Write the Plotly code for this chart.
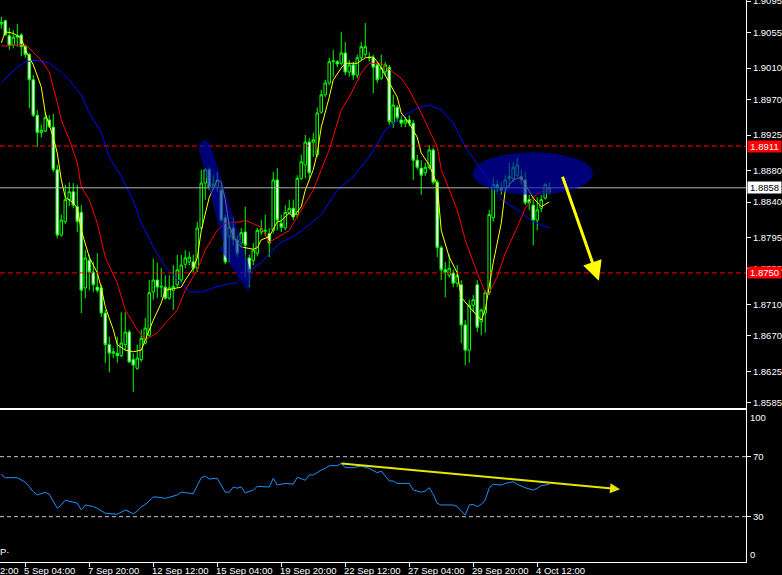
import plotly.graph_objects as go

# ---------------- data (H4 candles, bar index 0..137) ----------------
bars = list(range(138))
opens = [1.9066,1.9070,1.9051,1.9039,1.9049,1.9052,1.9037,1.9027,1.8995,1.8950,
         1.8928,1.8930,1.8944,1.8935,1.8881,1.8798,1.8815,1.8843,1.8853,1.8834,
         1.8827,1.8731,1.8766,1.8751,1.8732,1.8731,1.8699,1.8659,1.8648,1.8648,
         1.8645,1.8659,1.8675,1.8640,1.8629,1.8640,1.8661,1.8671,1.8726,1.8741,
         1.8732,1.8732,1.8718,1.8728,1.8735,1.8741,1.8761,1.8764,1.8764,1.8756,
         1.8807,1.8864,1.8881,1.8860,1.8858,1.8855,1.8820,1.8796,1.8807,1.8792,
         1.8788,1.8802,1.8769,1.8766,1.8775,1.8802,1.8803,1.8800,1.8804,1.8868,
         1.8813,1.8807,1.8826,1.8832,1.8824,1.8870,1.8887,1.8916,1.8916,1.8900,
         1.8954,1.8976,1.8991,1.9018,1.9018,1.9016,1.9029,1.9005,1.9014,1.9001,
         1.9023,1.9027,1.9024,1.9023,1.9014,1.8997,1.9005,1.9011,1.8940,1.8960,
         1.8944,1.8940,1.8944,1.8940,1.8893,1.8883,1.8877,1.8884,1.8906,1.8865,
         1.8782,1.8754,1.8747,1.8750,1.8737,1.8735,1.8684,1.8652,1.8709,1.8735,
         1.8688,1.8699,1.8725,1.8820,1.8862,1.8858,1.8858,1.8870,1.8870,1.8874,
         1.8872,1.8868,1.8843,1.8836,1.8817,1.8832,1.8845,1.8853]
highs = [1.9075,1.9071,1.9061,1.9058,1.9066,1.9054,1.9039,1.9029,1.9001,1.8957,
         1.8938,1.8954,1.8950,1.8952,1.8887,1.8824,1.8862,1.8865,1.8864,1.8862,
         1.8836,1.8779,1.8773,1.8764,1.8775,1.8735,1.8703,1.8669,1.8655,1.8669,
         1.8700,1.8700,1.8678,1.8648,1.8659,1.8678,1.8693,1.8741,1.8768,1.8763,
         1.8756,1.8747,1.8747,1.8760,1.8773,1.8773,1.8779,1.8777,1.8773,1.8815,
         1.8881,1.8883,1.8884,1.8874,1.8878,1.8862,1.8824,1.8815,1.8820,1.8798,
         1.8807,1.8834,1.8773,1.8788,1.8807,1.8817,1.8824,1.8807,1.8878,1.8883,
         1.8824,1.8836,1.8843,1.8843,1.8874,1.8900,1.8925,1.8921,1.8928,1.8960,
         1.8982,1.8995,1.9023,1.9033,1.9020,1.9056,1.9043,1.9020,1.9018,1.9027,
         1.9043,1.9067,1.9030,1.9027,1.9018,1.9027,1.9018,1.9014,1.8976,1.8963,
         1.8950,1.8948,1.8950,1.8944,1.8900,1.8893,1.8890,1.8912,1.8909,1.8868,
         1.8785,1.8764,1.8773,1.8754,1.8760,1.8741,1.8690,1.8716,1.8722,1.8741,
         1.8705,1.8728,1.8830,1.8871,1.8868,1.8865,1.8874,1.8890,1.8891,1.8896,
         1.8881,1.8878,1.8849,1.8843,1.8846,1.8849,1.8864,1.8865]
lows = [1.9060,1.9051,1.9033,1.9035,1.9037,1.9025,1.9023,1.8959,1.8948,1.8910,
        1.8922,1.8929,1.8934,1.8878,1.8794,1.8796,1.8812,1.8835,1.8832,1.8802,
        1.8699,1.8718,1.8728,1.8726,1.8725,1.8694,1.8636,1.8624,1.8642,1.8636,
        1.8643,1.8652,1.8636,1.8599,1.8627,1.8637,1.8659,1.8669,1.8716,1.8718,
        1.8719,1.8716,1.8716,1.8703,1.8731,1.8738,1.8756,1.8760,1.8751,1.8751,
        1.8804,1.8843,1.8855,1.8855,1.8853,1.8815,1.8761,1.8763,1.8785,1.8770,
        1.8782,1.8745,1.8732,1.8760,1.8771,1.8798,1.8797,1.8770,1.8800,1.8804,
        1.8802,1.8804,1.8824,1.8817,1.8820,1.8868,1.8870,1.8870,1.8897,1.8897,
        1.8952,1.8973,1.8988,1.8999,1.9011,1.9013,1.9001,1.8999,1.8995,1.8997,
        1.9020,1.9024,1.9018,1.8978,1.8991,1.8995,1.9001,1.8938,1.8934,1.8942,
        1.8935,1.8935,1.8936,1.8868,1.8881,1.8849,1.8873,1.8881,1.8862,1.8770,
        1.8741,1.8719,1.8744,1.8732,1.8732,1.8661,1.8633,1.8636,1.8700,1.8675,
        1.8671,1.8674,1.8722,1.8815,1.8853,1.8849,1.8853,1.8858,1.8865,1.8872,
        1.8862,1.8836,1.8830,1.8785,1.8804,1.8827,1.8843,1.8850]
closes = [1.9068,1.9052,1.9039,1.9049,1.9051,1.9037,1.9027,1.8995,1.8950,1.8928,
          1.8931,1.8947,1.8936,1.8881,1.8798,1.8817,1.8843,1.8853,1.8836,1.8815,
          1.8728,1.8769,1.8751,1.8735,1.8728,1.8699,1.8659,1.8648,1.8650,1.8645,
          1.8661,1.8675,1.8637,1.8633,1.8642,1.8667,1.8680,1.8725,1.8741,1.8732,
          1.8733,1.8718,1.8731,1.8733,1.8754,1.8760,1.8769,1.8770,1.8756,1.8807,
          1.8864,1.8881,1.8859,1.8863,1.8868,1.8817,1.8764,1.8808,1.8792,1.8775,
          1.8801,1.8785,1.8750,1.8779,1.8804,1.8806,1.8804,1.8788,1.8868,1.8817,
          1.8808,1.8827,1.8832,1.8821,1.8870,1.8891,1.8916,1.8877,1.8919,1.8953,
          1.8976,1.8991,1.9018,1.9019,1.9015,1.9029,1.9005,1.9014,1.9001,1.9023,
          1.9037,1.9037,1.9023,1.9011,1.8995,1.9010,1.9014,1.8942,1.8963,1.8947,
          1.8940,1.8944,1.8940,1.8893,1.8884,1.8874,1.8884,1.8906,1.8865,1.8782,
          1.8754,1.8751,1.8756,1.8737,1.8747,1.8684,1.8652,1.8709,1.8716,1.8681,
          1.8703,1.8725,1.8824,1.8862,1.8858,1.8855,1.8868,1.8872,1.8884,1.8887,
          1.8868,1.8839,1.8839,1.8817,1.8830,1.8843,1.8862,1.8858]

# moving averages
yellow_x = [0,1,3,5,6,8,10,11,13,14,15,16,18,19,20,22,24,25,26,28,29,31,33,35,36,38,40,41,43,45,
            46,48,49,50,52,53,54,55,56,57,59,60,63,64,65,67,69,70,72,73,75,76,78,79,80,82,83,85,86,89,
            91,93,94,95,97,99,100,102,104,105,107,109,110,112,114,115,117,120,121,123,125,126,128,130,131,133,135,137]
yellow_y = [1.9042,1.9056,1.9054,1.9048,1.9033,1.9014,1.8986,1.8953,1.8922,1.8902,
            1.8868,1.8846,1.8839,1.8832,1.8804,1.8770,1.8750,1.8731,1.8707,1.8678,
            1.8659,1.8652,1.8650,1.8652,1.8665,1.8690,1.8712,1.8728,1.8730,1.8732,
            1.8741,1.8756,1.8769,1.8804,1.8846,1.8858,1.8868,1.8865,1.8843,1.8808,
            1.8788,1.8783,1.8780,1.8782,1.8792,1.8796,1.8815,1.8816,1.8826,1.8821,
            1.8834,1.8855,1.8881,1.8902,1.8935,1.8973,1.8995,1.9010,1.9016,1.9016,
            1.9023,1.9024,1.9018,1.9010,1.8992,1.8973,1.8953,1.8940,1.8922,1.8902,
            1.8887,1.8862,1.8804,1.8770,1.8750,1.8719,1.8707,1.8690,1.8703,1.8763,
            1.8813,1.8855,1.8868,1.8872,1.8862,1.8845,1.8834,1.8840]
red_x = [0,2,5,6,8,10,12,13,14,15,17,19,20,22,24,26,29,31,34,36,39,41,44,46,49,51,54,56,60,61,
         63,65,67,70,72,73,75,78,80,82,85,87,90,92,95,97,100,102,105,107,109,110,112,114,116,119,121,122,124,126,
         129,131,133,135,137]
red_y = [1.9038,1.9038,1.9040,1.9040,1.9030,1.9020,1.9005,1.8986,1.8966,1.8944,
         1.8919,1.8890,1.8859,1.8843,1.8813,1.8770,1.8737,1.8703,1.8678,1.8665,
         1.8674,1.8686,1.8703,1.8728,1.8754,1.8779,1.8804,1.8813,1.8815,1.8817,
         1.8813,1.8808,1.8789,1.8798,1.8804,1.8813,1.8830,1.8855,1.8881,1.8906,
         1.8957,1.8973,1.9004,1.9016,1.9016,1.9008,1.8997,1.8982,1.8953,1.8931,
         1.8910,1.8881,1.8855,1.8830,1.8792,1.8750,1.8725,1.8725,1.8745,1.8775,
         1.8808,1.8832,1.8846,1.8853,1.8854]
blue_x = [0,4,6,9,12,15,17,20,22,25,27,30,33,35,38,41,45,47,50,53,56,59,61,65,67,70,73,76,80,84,
          88,92,96,100,104,107,110,113,116,120,123,125,129,133,137]
blue_y = [1.8992,1.9011,1.9018,1.9020,1.9016,1.9005,1.8995,1.8976,1.8953,1.8928,
          1.8897,1.8872,1.8842,1.8813,1.8783,1.8758,1.8737,1.8726,1.8726,1.8731,
          1.8735,1.8738,1.8750,1.8763,1.8775,1.8789,1.8796,1.8807,1.8824,1.8855,
          1.8872,1.8897,1.8931,1.8948,1.8959,1.8963,1.8957,1.8940,1.8910,1.8881,
          1.8859,1.8843,1.8830,1.8815,1.8807]

# RSI
rsi_x = [0,1,4,5,6,8,9,11,12,14,15,16,18,19,20,21,23,24,26,29,31,32,33,34,35,36,38,39,41,44,
         45,48,50,51,52,54,56,57,58,59,60,61,63,64,67,68,69,71,73,74,76,77,78,80,81,82,84,85,86,88,
         90,92,94,95,97,98,99,102,103,105,106,107,108,109,110,113,114,115,116,117,118,119,120,121,122,123,125,126,128,129,
         131,133,134,135,137]
rsi_v = [58.3,56,56,54.3,53,46.7,44.5,46.3,45,35.6,37.8,41,40,39,34.5,37.8,36.7,35.6,32.3,31.6,
         34.5,33,32,33.7,36.7,38,43.1,43.1,42.2,44.5,46.3,45.4,56,57,55.1,55.6,46.3,46.3,49.8,49,
         49.8,45.8,47.8,50.2,49.8,55.6,51.1,52.2,51.7,56.3,54.3,57.8,57.8,61.1,62.2,64,64,65.6,62.7,62.7,
         63.8,62.2,59.3,60.4,53.8,53.8,52.2,52.2,47.8,46.3,47.1,49.3,44.9,38.9,37.8,37.8,36.7,33.8,31.1,37.8,
         38.2,36.7,38.2,41.1,49.3,51.6,51.1,52.2,53.3,51.6,49.3,47.8,48.9,50.7,51.6]
rsi_levels = [70, 30]

# axes / labels
price_ticks = [1.9095,1.9055,1.9010,1.8970,1.8925,1.8880,1.8840,1.8795,1.8755,1.8710,1.8670,1.8625,1.8585]
time_tick_bars = [-10,6,22,38,54,70,86,102,118,134]
time_tick_labels = ["2 Sep 12:00","5 Sep 04:00","7 Sep 20:00","12 Sep 12:00","15 Sep 04:00",
                    "19 Sep 20:00","22 Sep 12:00","27 Sep 04:00","29 Sep 20:00","4 Oct 12:00"]
level_high = 1.8911
level_low = 1.8750
bid_price = 1.8858

# drawings
ellipse_bars = [117.9, 147.9]
ellipse_prices = [1.8849, 1.8903]
wedge_bars = [49.4, 49.9, 50.9, 51.9, 52.4, 62.7, 61.7, 54.4, 55.7]
wedge_prices = [1.8908, 1.8916, 1.8919, 1.8916, 1.8910, 1.8747, 1.8726, 1.8783, 1.8784]
arrow_from = (140.2, 1.8874)
arrow_to = (149.4, 1.8740)
rsi_arrow_from = (84.7, 65.6)
rsi_arrow_to = (154.7, 48.3)

X_RANGE = [-0.325, 186.2]
FONT = "Liberation Sans"
FS = 9.5

fig = go.Figure()
fig.add_trace(go.Candlestick(
    x=bars, open=opens, high=highs, low=lows, close=closes,
    increasing=dict(line=dict(color="#00ff00", width=1), fillcolor="#000000"),
    decreasing=dict(line=dict(color="#00ff00", width=1), fillcolor="#ffffff"),
    whiskerwidth=0, hoverinfo="skip", xaxis="x", yaxis="y", showlegend=False))
for xs, ys, col in [(blue_x, blue_y, "#0000ff"), (red_x, red_y, "#ff0000"), (yellow_x, yellow_y, "#ffff00")]:
    fig.add_trace(go.Scatter(x=xs, y=ys, mode="lines", line=dict(color=col, width=1),
                             hoverinfo="skip", showlegend=False, xaxis="x", yaxis="y"))
fig.add_trace(go.Scatter(x=rsi_x, y=rsi_v, mode="lines", line=dict(color="#1e90ff", width=1),
                         hoverinfo="skip", showlegend=False, xaxis="x2", yaxis="y2"))

shapes = []
for lv in [level_high, level_low]:
    shapes.append(dict(type="line", xref="x domain", yref="y", x0=0, x1=1, y0=lv, y1=lv,
                       line=dict(color="#ff0000", width=1, dash="5px,3px"), layer="above"))
shapes.append(dict(type="line", xref="x domain", yref="y", x0=0, x1=1, y0=bid_price, y1=bid_price,
                   line=dict(color="#b4b4b4", width=1), layer="above"))
for lv in rsi_levels:
    shapes.append(dict(type="line", xref="x2 domain", yref="y2", x0=0, x1=1, y0=lv, y1=lv,
                       line=dict(color="#c8c8c8", width=1, dash="4px,3px"), layer="above"))
shapes.append(dict(type="circle", xref="x", yref="y", x0=ellipse_bars[0], x1=ellipse_bars[1],
                   y0=ellipse_prices[0], y1=ellipse_prices[1], fillcolor="rgb(0,0,200)",
                   line=dict(width=0), opacity=0.6, layer="above"))
path = "M " + " L ".join(f"{b},{p}" for b, p in zip(wedge_bars, wedge_prices)) + " Z"
shapes.append(dict(type="path", xref="x", yref="y", path=path, fillcolor="rgb(0,0,200)",
                   line=dict(width=0), opacity=0.6, layer="above"))

ann = []
ann.append(dict(x=arrow_to[0], y=arrow_to[1], ax=arrow_from[0], ay=arrow_from[1], xref="x", yref="y",
                axref="x", ayref="y", text="", showarrow=True, arrowcolor="#ffff00", arrowwidth=3,
                arrowhead=2, arrowsize=1.3))
ann.append(dict(x=rsi_arrow_to[0], y=rsi_arrow_to[1], ax=rsi_arrow_from[0], ay=rsi_arrow_from[1],
                xref="x2", yref="y2", axref="x2", ayref="y2", text="", showarrow=True,
                arrowcolor="#e6e600", arrowwidth=2, arrowhead=2, arrowsize=1))
for txt, val, bg, fg in [(f"{level_high:.4f}", level_high, "#ff0000", "#ffffff"),
                         (f"{level_low:.4f}", level_low, "#ff0000", "#ffffff"),
                         (f"{bid_price:.4f}", bid_price, "#ffffff", "#000000")]:
    ann.append(dict(x=1, xref="paper", y=val, yref="y", xanchor="left", yanchor="middle", xshift=1,
                    text=txt, showarrow=False, bgcolor=bg, borderpad=0, width=33, align="center",
                    font=dict(color=fg, size=FS, family=FONT)))
for b, lab in zip(time_tick_bars, time_tick_labels):
    if b < X_RANGE[0]:
        ann.append(dict(x=0, xref="paper", y=0, yref="paper", xanchor="left", yanchor="top",
                        xshift=-2, yshift=-1, text=lab[-4:], showarrow=False,
                        font=dict(color="white", size=FS, family=FONT)))
    else:
        ann.append(dict(x=b, xref="x2", y=0, yref="paper", xanchor="left", yanchor="top",
                        xshift=-3, yshift=-1, text=lab, showarrow=False,
                        font=dict(color="white", size=FS, family=FONT)))
ann.append(dict(x=1, xref="paper", y=1, yref="y2 domain", xanchor="left", yanchor="top", xshift=2,
                text="100", showarrow=False, font=dict(color="white", size=FS, family=FONT)))
ann.append(dict(x=1, xref="paper", y=0, yref="y2 domain", xanchor="left", yanchor="bottom", xshift=2,
                text="0", showarrow=False, font=dict(color="white", size=FS, family=FONT)))
ann.append(dict(x=0, xref="paper", y=7, yref="y2", xanchor="left", yanchor="middle", xshift=-2,
                text="P·", showarrow=False, font=dict(color="white", size=FS, family=FONT)))

axis_common = dict(showgrid=False, zeroline=False, linecolor="white", linewidth=1)
fig.update_layout(
    width=782, height=575,
    paper_bgcolor="black", plot_bgcolor="black",
    margin=dict(l=0, r=36, t=0, b=13, pad=0),
    showlegend=False, hovermode=False,
    boxgap=0.25, boxgroupgap=0.15,
    font=dict(family=FONT, size=FS, color="white"),
    xaxis=dict(domain=[0, 1], range=X_RANGE, anchor="y", showticklabels=False, ticks="",
               showline=True, rangeslider=dict(visible=False), **axis_common),
    yaxis=dict(domain=[0.274, 1], range=[1.85786, 1.90963], anchor="x", side="right",
               tickvals=price_ticks, ticktext=[f"{v:.4f}" for v in price_ticks],
               ticks="outside", ticklen=4, tickcolor="white", showline=True, automargin=False,
               ticklabeloverflow="allow",
               tickfont=dict(color="white", size=FS, family=FONT), **axis_common),
    xaxis2=dict(domain=[0, 1], range=X_RANGE, anchor="y2", tickvals=time_tick_bars,
                ticks="outside", ticklen=4, tickcolor="white", showticklabels=False,
                showline=True, mirror=True, automargin=False, **axis_common),
    yaxis2=dict(domain=[0, 0.2696], range=[-0.2, 100.8], anchor="x2", side="right",
                tickvals=rsi_levels, ticktext=[str(v) for v in rsi_levels], automargin=False,
                ticks="outside", ticklen=4, tickcolor="white", showline=True,
                tickfont=dict(color="white", size=FS, family=FONT), **axis_common),
    shapes=shapes, annotations=ann,
)
fig.write_html("out.html", config={"displayModeBar": False},
               post_script="document.body.style.margin='0px';document.body.style.background='black';")
